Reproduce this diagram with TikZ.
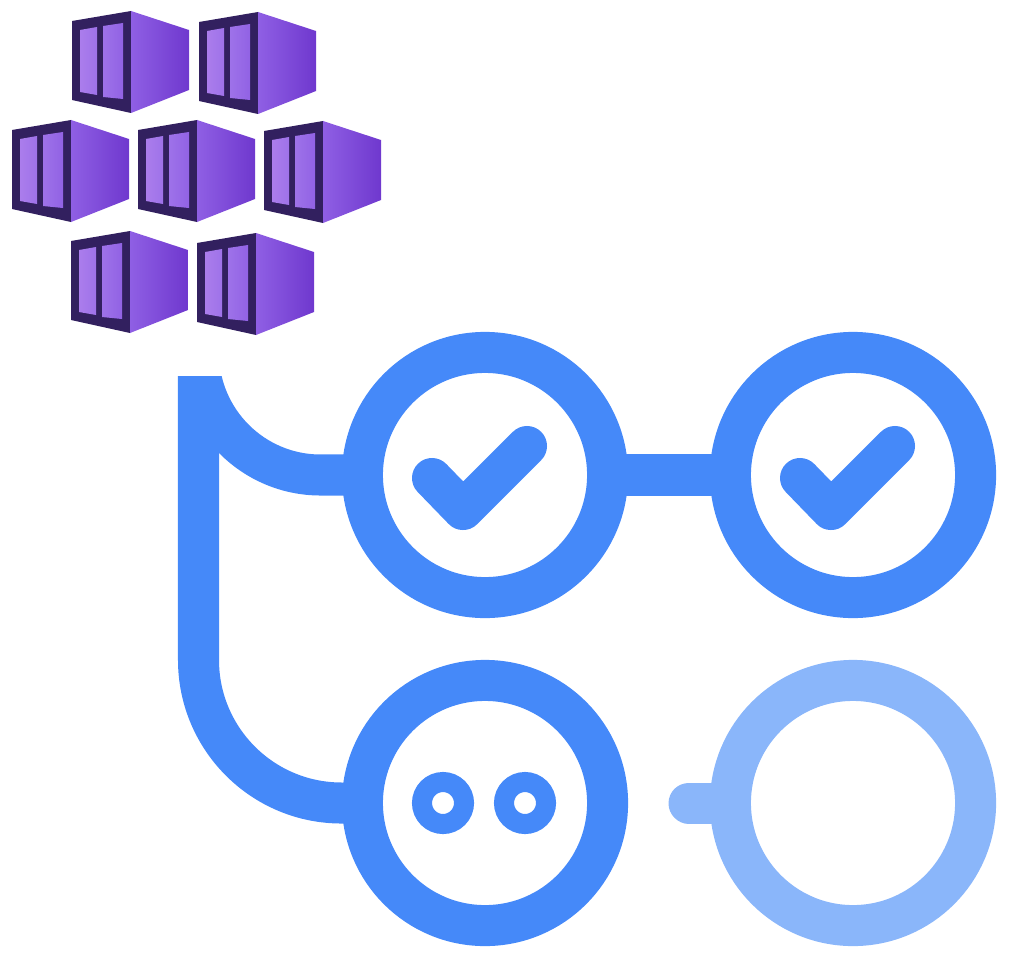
\documentclass[tikz,border=0pt]{standalone}
\usepackage{xcolor}
\usetikzlibrary{shapes.misc}

\definecolor{flowblue}{HTML}{4589F9}
\definecolor{flowpale}{HTML}{8AB6FA}
\definecolor{boxdark}{HTML}{32205F}
\definecolor{boxside}{HTML}{8F5FE4}
\definecolor{boxsideend}{HTML}{6F38CE}
\definecolor{boxpane}{HTML}{AB7DEC}
\definecolor{boxpaneend}{HTML}{9E72E9}
\definecolor{boxpanelast}{HTML}{9162E4}

\tikzset{
    ring/.style={circle, draw=flowblue, line width=0.41cm, minimum size=2.45cm, inner sep=0pt},
    palering/.style={ring, draw=flowpale},
    eye/.style={circle, draw=flowblue, line width=0.2cm, minimum size=0.42cm, inner sep=0pt},
    flow/.style={draw=flowblue, line width=0.41cm},
    tuck/.style={shorten >=-0.15cm},
    tick/.style={draw=flowblue, line width=0.4cm, line cap=round, line join=round},
    container/.pic={
        \fill[boxdark] (0, 0) -- (59, -10) -- (59, 92) -- (0, 79) -- cycle;
        \shade[left color=boxside, right color=boxsideend] (59, -10) -- (117, 9) -- (117, 69) -- (59, 92) -- cycle;
        \shade[left color=boxpane, right color=boxpaneend] (8, 9) -- (25, 6) -- (25, 74) -- (8, 71) -- cycle;
        \shade[left color=boxpaneend, right color=boxpanelast] (31, 5) -- (51, 2) -- (51, 78) -- (31, 76) -- cycle;
    }
}

\begin{document}
\begin{tikzpicture}[x=0.01cm, y=-0.01cm]
        \useasboundingbox (0, 0) rectangle (1016, 976);

        \pic at (72, 21) {container};
        \pic at (199, 22) {container};
        \pic at (12, 130) {container};
        \pic at (138, 130) {container};
        \pic at (264, 131) {container};
        \pic at (71, 241) {container};
        \pic at (197, 243) {container};

        \node[ring] (passA) at (485, 475) {};
        \node[ring] (passB) at (853, 475) {};
        \node[ring] (runC) at (485, 803) {};
        \node[palering] (waitD) at (853, 803) {};

        \coordinate (trunkTop) at (198.5, 376);
        \coordinate (branchTop) at (198.5, 353);
        \coordinate (stubEnd) at (689, 803);

        \draw[flow, tuck, rounded corners=1.43cm] (trunkTop) |- (runC.west);
        \begin{scope}
            \clip (100, 376) rectangle (400, 600);
            \draw[flow, tuck, rounded corners=1.22cm] (branchTop) |- (passA.west);
        \end{scope}
        \draw[flow, tuck, shorten <=-0.15cm] (passA.east) -- (passB.west);
        \draw[flow, draw=flowpale, line cap=round] (stubEnd) -- (waitD.west);

        \draw[tick] (432, 478) -- (463, 510) -- (527, 446);
        \draw[tick] (800, 478) -- (831, 510) -- (895, 446);

        \node[eye] (eyeL) at (443, 803) {};
        \node[eye] (eyeR) at (525, 803) {};
    \end{tikzpicture}
\end{document}
